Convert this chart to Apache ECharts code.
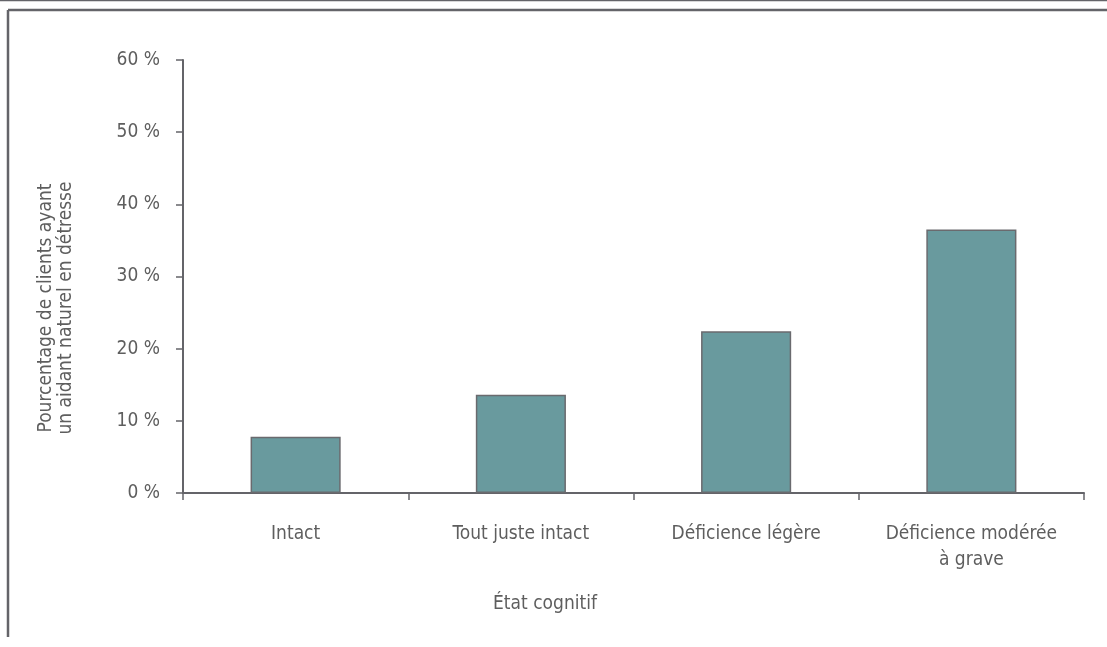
<!DOCTYPE html>
<html>
<head>
<meta charset="utf-8">
<script src="https://cdn.jsdelivr.net/npm/echarts@6/dist/echarts.min.js"></script>
<style>
  html, body { margin: 0; padding: 0; background: #ffffff; }
  #chart { width: 1107px; height: 647px; }
</style>
</head>
<body>
<div id="chart"></div>
<script>
// Cognitive status categories and share of clients with a distressed caregiver (%)
const categories = ['Intact', 'Tout juste intact', 'Déficience légère', 'Déficience modérée\nà grave'];
const values = [7.8, 13.6, 22.4, 36.5];
const yTicks = [0, 10, 20, 30, 40, 50, 60];

const FONT = "'Liberation Sans Narrow', 'DejaVu Sans Condensed', 'Roboto', sans-serif";
const TEXT = '#5e5e5e';
const LINE = '#646469';

const chart = echarts.init(document.getElementById('chart'), null, { renderer: 'canvas' });

chart.setOption({
  animation: false,
  backgroundColor: '#ffffff',
  grid: { left: 183, right: 23, top: 60, bottom: 154, containLabel: false },
  xAxis: {
    type: 'category',
    data: categories,
    axisLine: { lineStyle: { color: LINE, width: 2 } },
    axisTick: { show: true, interval: 0, alignWithLabel: false, length: 7, lineStyle: { color: LINE, width: 1.5 } },
    axisLabel: {
      interval: 0,
      color: TEXT, fontFamily: FONT, fontSize: 19, margin: 28,
      lineHeight: 26, align: 'center'
    }
  },
  yAxis: {
    type: 'value',
    min: yTicks[0],
    max: yTicks[yTicks.length - 1],
    interval: 10,
    axisLine: { show: true, lineStyle: { color: LINE, width: 2 } },
    axisTick: { show: true, length: 7, lineStyle: { color: LINE, width: 1.5 } },
    splitLine: { show: false },
    axisLabel: {
      color: TEXT, fontFamily: FONT, fontSize: 19, margin: 23,
      formatter: v => v + ' %'
    }
  },
  series: [{
    type: 'bar',
    data: values,
    barWidth: '40%',
    itemStyle: { color: '#699a9e', borderColor: '#6a6a6e', borderWidth: 1.5 }
  }],
  graphic: [
    // page frame
    { type: 'line', shape: { x1: 0, y1: 0.5, x2: 1107, y2: 0.5 }, style: { stroke: LINE, lineWidth: 1.5 } },
    { type: 'line', shape: { x1: 8, y1: 10, x2: 1107, y2: 10 }, style: { stroke: LINE, lineWidth: 2.5 } },
    { type: 'line', shape: { x1: 8, y1: 10, x2: 8, y2: 637 }, style: { stroke: LINE, lineWidth: 2.5 } },
    // y-axis title
    {
      type: 'text', x: 56, y: 308, rotation: Math.PI / 2,
      style: {
        text: 'Pourcentage de clients ayant\nun aidant naturel en détresse',
        fill: TEXT, font: '19px ' + FONT, align: 'center', verticalAlign: 'middle', lineHeight: 20
      }
    },
    // x-axis title
    {
      type: 'text', x: 545, y: 604,
      style: { text: 'État cognitif', fill: TEXT, font: '19px ' + FONT, align: 'center', verticalAlign: 'middle' }
    }
  ]
});
</script>
</body>
</html>
